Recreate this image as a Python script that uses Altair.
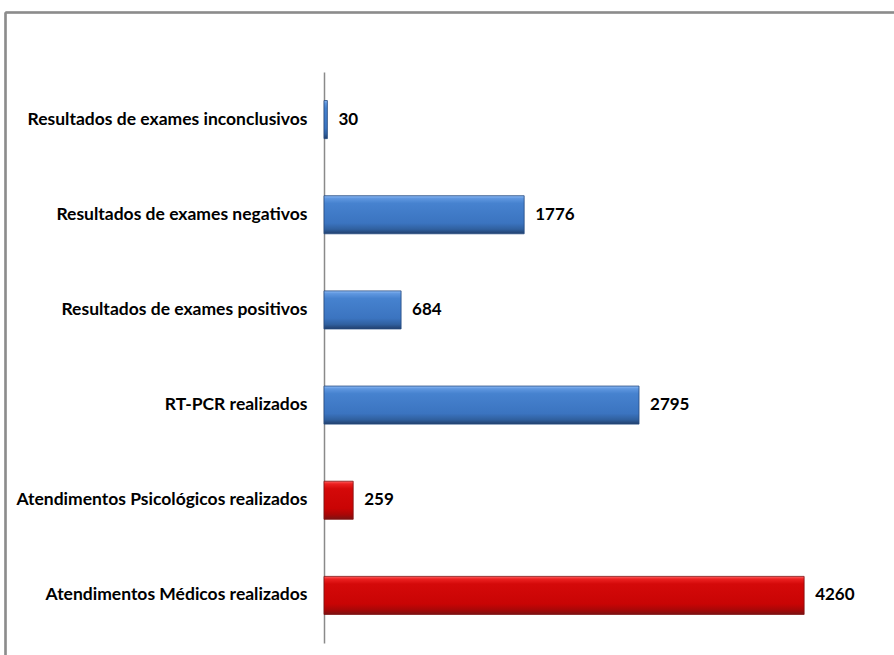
import altair as alt
import pandas as pd

# Indicadores, de cima para baixo
categorias = [
    "Resultados de exames inconclusivos",
    "Resultados de exames negativos",
    "Resultados de exames positivos",
    "RT-PCR realizados",
    "Atendimentos Psicológicos realizados",
    "Atendimentos Médicos realizados",
]
valores = [30, 1776, 684, 2795, 259, 4260]
grupos = ["exames", "exames", "exames", "exames", "atendimentos", "atendimentos"]

df = pd.DataFrame({"categoria": categorias, "valor": valores, "grupo": grupos})

FONT = "Lato"
W, H = 541, 571
LEFT, TOP = 324, 72

azul = alt.LinearGradient(
    gradient="linear", x1=0, x2=0, y1=0, y2=1,
    stops=[
        alt.GradientStop(color="#8fbcf6", offset=0),
        alt.GradientStop(color="#5f97e0", offset=0.07),
        alt.GradientStop(color="#4682cf", offset=0.2),
        alt.GradientStop(color="#3b74c0", offset=0.72),
        alt.GradientStop(color="#30609f", offset=0.88),
        alt.GradientStop(color="#213f6c", offset=1),
    ],
)
vermelho = alt.LinearGradient(
    gradient="linear", x1=0, x2=0, y1=0, y2=1,
    stops=[
        alt.GradientStop(color="#ff6161", offset=0),
        alt.GradientStop(color="#ec2020", offset=0.07),
        alt.GradientStop(color="#d40909", offset=0.2),
        alt.GradientStop(color="#c90404", offset=0.72),
        alt.GradientStop(color="#a80707", offset=0.88),
        alt.GradientStop(color="#7a1313", offset=1),
    ],
)

x = alt.X("valor:Q", scale=alt.Scale(domain=[0, 4800]), axis=None)
y = alt.Y(
    "categoria:N",
    sort=categorias,
    title=None,
    scale=alt.Scale(paddingInner=0.6, paddingOuter=0.3),
    axis=alt.Axis(
        ticks=False,
        labelPadding=17,
        labelFont=FONT,
        labelFontSize=17.5,
        labelFontWeight="bold",
        labelColor="#000000",
        labelLimit=400,
        domainColor="#8a8a8a",
        domainWidth=1.5,
        grid=False,
    ),
)

base = alt.Chart(df).encode(x=x, y=y)

barras_azuis = base.transform_filter(alt.datum.grupo == "exames").mark_bar(
    color=azul, stroke="#254a80", strokeWidth=0.8
)
barras_vermelhas = base.transform_filter(alt.datum.grupo == "atendimentos").mark_bar(
    color=vermelho, stroke="#801010", strokeWidth=0.8
)
rotulos = base.mark_text(
    align="left", baseline="middle", dx=11, font=FONT, fontSize=17,
    fontWeight="bold", color="#000000",
).encode(text="valor:Q")

# moldura externa (borda superior e esquerda)
moldura_topo = alt.Chart(df).mark_rule(color="#8c8c8c", strokeWidth=1.5).encode(
    x=alt.value(-LEFT + 5.5), x2=alt.value(W + 40), y=alt.value(-TOP + 12.5)
)
moldura_esq = alt.Chart(df).mark_rule(color="#8c8c8c", strokeWidth=1.5).encode(
    x=alt.value(-LEFT + 5.5), y=alt.value(-TOP + 12.5), y2=alt.value(H + 40)
)

chart = (
    alt.layer(barras_azuis, barras_vermelhas, rotulos, moldura_topo, moldura_esq)
    .properties(
        width=W,
        height=H,
        background="#ffffff",
        autosize=alt.AutoSizeParams(type="none"),
        padding={"left": LEFT, "top": TOP, "right": 894 - LEFT - W, "bottom": 655 - TOP - H},
    )
    .configure_view(strokeWidth=0, strokeOpacity=0)
)

chart.save("out.html", embed_options={"renderer": "svg", "actions": False})
